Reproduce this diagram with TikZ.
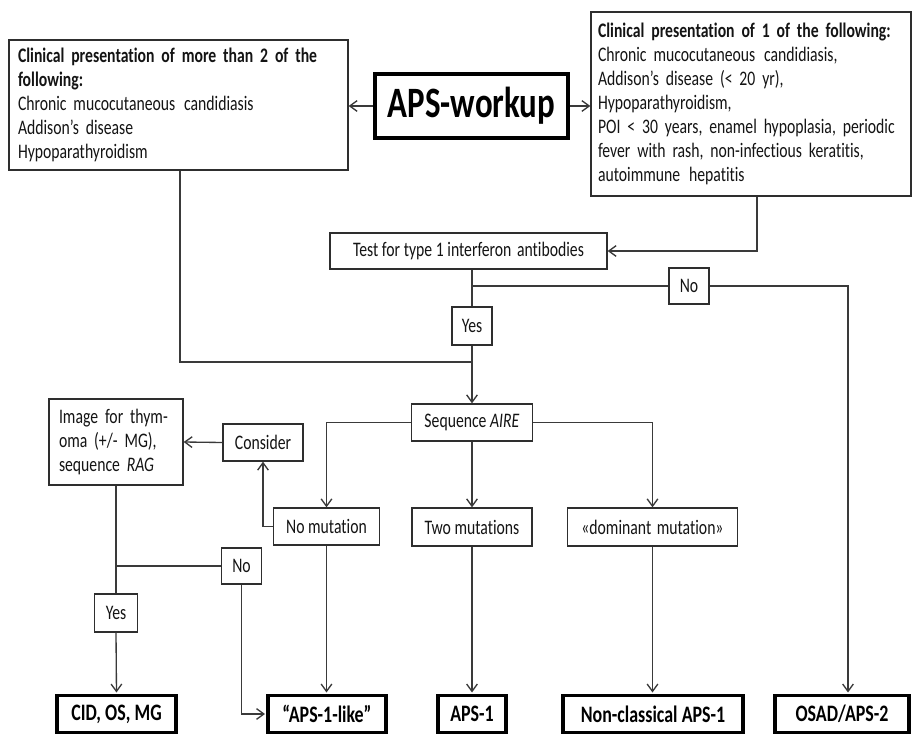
\documentclass[tikz,border=0pt]{standalone}
\usepackage{fontspec}
\setmainfont{Carlito}[FakeStretch=0.76, Ligatures=NoCommon]
\usetikzlibrary{arrows.meta}
\definecolor{linec}{HTML}{3A3A3A}
\definecolor{boxc}{HTML}{2E2E2E}
\definecolor{txtc}{HTML}{141414}
\newcommand\bodyfont{\fontsize{15.5}{18}\selectfont\spaceskip=2.7pt plus 1pt minus 0.5pt\relax\xspaceskip=\spaceskip}
\newcommand\termfont{\bfseries\fontsize{17.7}{21}\selectfont\spaceskip=3.1pt plus 1pt minus 0.5pt\relax\xspaceskip=\spaceskip}
\newcommand\xgap{\hspace{1.5pt}}
\tikzset{
  box/.style={draw=boxc, line width=1pt, inner sep=0pt, text=txtc, font=\bodyfont},
  txtbox/.style={box, align=left},
  bigbox/.style={draw=black, line width=2.5pt, inner sep=0pt, text=black,
    font=\termfont, minimum height=27.75pt},
  conn/.style={draw=linec, line width=1pt},
  arr/.style={conn, -{Straight Barb[length=5.5pt,width=8pt]}},
}
\begin{document}
\begin{tikzpicture}[x=0.75pt,y=-0.75pt]
\fill[white] (0,0) rectangle (913,734);
\useasboundingbox (0,0) rectangle (913,734);

% top row
\node[txtbox, minimum width=254.25pt, minimum height=97.5pt, text width=240.75pt, inner xsep=6.75pt]
  (tl) at (178.5,105)
  {\mbox{\bfseries Clinical presentation of more than 2 of the}\\
   \mbox{\bfseries following:}\\
   \mbox{Chronic mucocutaneous\xgap{} candidiasis}\\
   \mbox{Addison’s disease}\\
   \mbox{Hypoparathyroidism}};
\node[draw=black, line width=3pt, inner sep=0pt, minimum width=144.75pt, minimum height=48pt,
  font=\bfseries\fontsize{32.5}{38}\selectfont] (aps) at (471.5,106) {APS-workup};
\node[txtbox, minimum width=240pt, minimum height=138pt, text width=229.5pt, inner xsep=5.25pt]
  (tr) at (751,104)
  {\mbox{\bfseries Clinical presentation of 1 of the following:}\\
   \mbox{Chronic mucocutaneous\xgap{} candidiasis,}\\
   \mbox{Addison’s disease (< 20 yr),}\\
   \mbox{Hypoparathyroidism,}\\
   \mbox{POI < 30 years, enamel hypoplasia, periodic}\\
   \mbox{fever with rash, non-infectious keratitis,}\\
   \mbox{autoimmune\xgap{} hepatitis}};

% middle
\node[box, minimum width=207.75pt, minimum height=27pt] (test) at (468.5,251)
  {Test for type 1 interferon\xgap{} antibodies\hspace{12pt}};
\node[box, minimum width=30pt, minimum height=27pt] (no1) at (689,286) {No};
\node[box, minimum width=30pt, minimum height=28.5pt] (yes1) at (472,326) {Yes};
\node[box, minimum width=90.75pt, minimum height=27.75pt] (aire) at (472,422.5)
  {Sequence \textit{AIRE}};
\node[txtbox, minimum width=100.5pt, minimum height=64.5pt, text width=85.5pt, inner xsep=7.5pt]
  (img) at (116,442)
  {Image for thym-\\oma (+/- MG),\\sequence \textit{RAG}};
\node[box, minimum width=60pt, minimum height=27.75pt] (consider) at (263,442.5) {Consider};
\node[box, minimum width=79.5pt, minimum height=27.75pt] (nomut) at (326.5,526.5) {No mutation};
\node[box, minimum width=90pt, minimum height=28.5pt] (two) at (472,527) {Two mutations};
\node[box, minimum width=127.5pt, minimum height=28.5pt] (dom) at (652.5,527)
  {«dominant\xgap{} mutation»};
\node[box, minimum width=30pt, minimum height=27pt] (no2) at (241.5,566) {No};
\node[box, minimum width=32.25pt, minimum height=28.5pt] (yes2) at (116,613) {Yes};

% bottom row
\node[bigbox, minimum width=89.25pt] (cid) at (116.5,714) {CID, OS, MG};
\node[bigbox, minimum width=88.5pt] (like) at (327,714) {“APS-1-like”};
\node[bigbox, minimum width=51pt] (aps1) at (472,714) {APS-1};
\node[bigbox, minimum width=135pt] (noncl) at (653,714) {Non-classical APS-1};
\node[bigbox, minimum width=100.5pt] (osad) at (842,714) {OSAD/APS-2};

% connectors
\draw[arr] (aps.west) -- (aps.west -| tl.east);
\draw[arr] (aps.east) -- (aps.east -| tr.west);
\coordinate (c1) at (757,251);
\draw[arr] (tr.south -| c1) -- (c1) -- (test.east);
\coordinate (c2) at (180,362);
\draw[conn] (tl.south -| c2) -- (c2) -- (c2 -| yes1.south);
\draw[conn] (yes1.north |- test.south) -- (yes1.north);
\draw[arr] (yes1.south) -- (aire.north);
\draw[conn] (yes1.north |- no1.west) -- (no1.west);
\coordinate (c3) at (848,286);
\draw[arr, shorten >=1pt] (no1.east) -- (c3) -- (c3 |- osad.north);
\draw[arr] (aire.east) -| (dom.north);
\draw[arr] (aire.south) -- (two.north);
\draw[arr] (aire.west) -| (nomut.north);
\draw[arr] (nomut.west) -| (consider.south);
\draw[arr] (consider.west) -- (img.east);
\draw[conn] (img.south) -- (yes2.north);
\draw[conn] (no2.west) -- (no2.west -| img.south);
\draw[arr, shorten >=1pt] (yes2.south) -- (cid.north);
\draw[arr, shorten >=1pt] (no2.south) |- (like.west);
\draw[arr, shorten >=1pt] (nomut.south) -- (nomut.south |- like.north);
\draw[arr, shorten >=1pt] (two.south) -- (aps1.north);
\draw[arr, shorten >=1pt] (dom.south) -- (dom.south |- noncl.north);
\end{tikzpicture}
\end{document}
